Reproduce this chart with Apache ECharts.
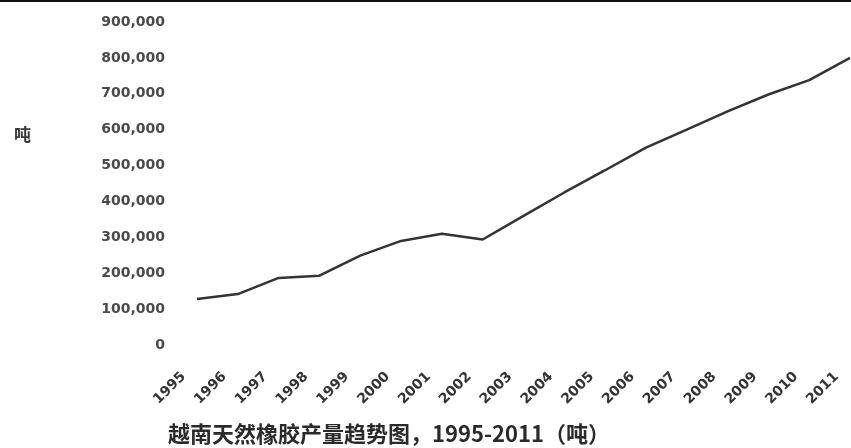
<!DOCTYPE html>
<html>
<head>
<meta charset="utf-8">
<script src="https://cdn.jsdelivr.net/npm/echarts@6/dist/echarts.min.js"></script>
<style>
html,body{margin:0;padding:0;background:#fff;}
#c{width:851px;height:448px;}
</style>
</head>
<body>
<div id="c"></div>
<script>
var years = ['1995','1996','1997','1998','1999','2000','2001','2002','2003','2004','2005','2006','2007','2008','2009','2010','2011'];
var production = [128000,142000,187000,193000,249000,290000,310000,294000,360000,425000,487000,550000,600000,651000,698000,738000,800000];
var yTicks = {min:0, max:900000, interval:100000};
var titleText = '越南天然橡胶产量趋势图，1995-2011（吨）';
var unitText = '吨';

var chart = echarts.init(document.getElementById('c'), null, {renderer:'canvas'});
chart.setOption({
  backgroundColor:'#ffffff',
  animation:false,
  title:[{
    text:titleText, left:163, top:418,
    textStyle:{fontFamily:'Noto Sans CJK SC', fontSize:22, fontWeight:'bold', color:'#2a2a2a'}
  },{
    text:unitText, left:9, top:121,
    textStyle:{fontFamily:'Noto Sans CJK SC', fontSize:17, fontWeight:'bold', color:'#3a3a3a'}
  }],
  graphic:[{type:'rect', shape:{x:0,y:0,width:851,height:2}, style:{fill:'#111'}}],
  grid:{left:197, right:1, top:22, bottom:103, containLabel:false},
  xAxis:{
    type:'category', data:years, boundaryGap:false,
    axisLine:{show:false}, axisTick:{show:false}, splitLine:{show:false},
    axisLabel:{rotate:45, margin:16, padding:[0,19,0,0], interval:0,
      fontFamily:'DejaVu Sans', fontWeight:'bold', fontSize:14, color:'#333'}
  },
  yAxis:{
    type:'value', min:yTicks.min, max:yTicks.max, interval:yTicks.interval,
    axisLine:{show:false}, axisTick:{show:false}, splitLine:{show:false},
    axisLabel:{margin:32, fontFamily:'DejaVu Sans', fontWeight:'bold', fontSize:14, color:'#4a4a4a',
      formatter:function(v){return v.toString().replace(/\B(?=(\d{3})+(?!\d))/g, ',');}}
  },
  series:[{
    type:'line', data:production, symbol:'none', smooth:false,
    lineStyle:{color:'#333', width:2.5}
  }]
});
</script>
</body>
</html>
